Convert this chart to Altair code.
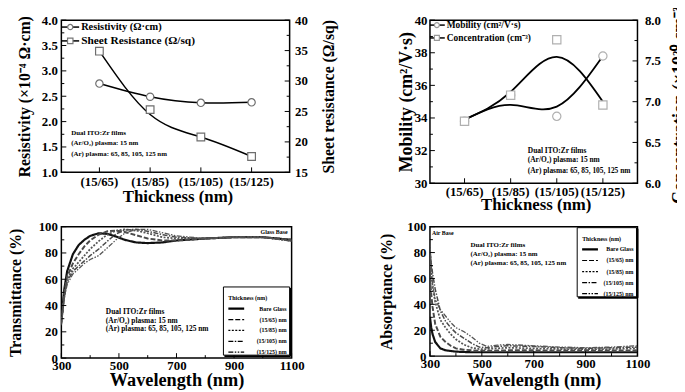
import altair as alt
import pandas as pd

FONT = "Liberation Serif"

# ---------------- data ----------------
CATS = ["(15/65)", "(15/85)", "(15/105)", "(15/125)"]

RES_PTS = [2.75, 2.49, 2.37, 2.38]
RES_FIT = [2.75, 2.49, 2.37, 2.38]
SHEET_PTS = [34.9, 25.3, 20.8, 17.6]
SHEET_FIT = [34.9, 24.5, 20.8, 17.6]

MOB_PTS = [33.8, 35.4, 34.1, 37.8]
MOB_FIT = [33.9, 34.8, 34.7, 37.8]
CONC_PTS = [6.76, 7.08, 7.76, 6.96]
CONC_FIT = [6.78, 7.12, 7.55, 7.0]

SERIES = ["Bare Glass", "(15/65) nm", "(15/85) nm", "(15/105) nm", "(15/125) nm"]

WL_T = [300, 310, 320, 340, 360, 380, 400, 430, 460, 490, 520, 560, 600, 650, 700, 800, 900, 1000, 1100]
T_BARE = [30, 52, 66, 79, 86, 90, 93, 95, 94.5, 92.5, 90, 88, 87.5, 88, 89.5, 91, 92, 92, 90]
T_65 = [28, 50, 62, 72, 79, 85, 89.5, 94, 96.5, 97, 96, 93.5, 91, 89.5, 89.5, 91, 92, 92, 90]
T_85 = [27, 48, 60, 68, 73, 78, 83, 89, 94, 97, 98, 97, 95, 92, 91, 91, 92, 92, 89.5]
T_105 = [26, 46, 58, 66, 70, 74, 78, 83, 89, 94.5, 97.5, 98, 96.5, 94, 92, 91, 92, 92, 89]
T_125 = [25, 45, 56, 64, 68, 72, 75, 78, 84, 90, 95, 98, 98, 95.5, 93, 91, 92, 92, 89]

WL_A = [300, 305, 310, 320, 340, 360, 380, 400, 430, 460, 490, 520, 560, 600, 700, 800, 900, 1000, 1100]
A_BARE = [30, 22, 17, 11, 6, 4.5, 4, 3.5, 3.2, 3, 3, 3, 3, 3, 3, 3, 3, 3, 3]
A_65 = [60, 48, 38, 25, 15, 11, 8, 6, 5, 4.5, 4.2, 4.2, 4.3, 4.5, 4.5, 4.3, 4.5, 4.3, 4.5]
A_85 = [75, 63, 54, 42, 28, 22, 17, 13, 9, 6.5, 5.5, 5.5, 6, 6.5, 6, 5.5, 5.5, 5.5, 6]
A_105 = [82, 72, 64, 52, 35, 27, 22, 18, 14, 10, 7, 6.5, 7.5, 8, 7.5, 6.5, 6, 6.5, 7]
A_125 = [88, 70, 56, 44, 36, 31, 26, 22, 19, 15, 10, 7.5, 8.5, 9, 8, 7, 6.5, 7, 8]

TL_LEFT_TICKS = [1.0, 1.5, 2.0, 2.5, 3.0, 3.5, 4.0]
TL_LEFT_MINOR = [1.25, 1.75, 2.25, 2.75, 3.25, 3.75]
TL_RIGHT_TICKS = [15, 20, 25, 30, 35, 40]
TL_RIGHT_MINOR = [17.5, 22.5, 27.5, 32.5, 37.5]
TR_LEFT_TICKS = [30, 32, 34, 36, 38, 40]
TR_LEFT_MINOR = [31, 33, 35, 37, 39]
TR_RIGHT_TICKS = [6.0, 6.5, 7.0, 7.5, 8.0]
TR_RIGHT_MINOR = [6.25, 6.75, 7.25, 7.75]
PCT_TICKS = [0, 20, 40, 60, 80, 100]
PCT_MINOR = [10, 30, 50, 70, 90]
WL_TICKS = [300, 500, 700, 900, 1100]
WL_MINOR = [400, 600, 800, 1000]

NOTE = ["Dual ITO:Zr films", "(Ar/O\u2082) plasma: 15 nm", "(Ar) plasma: 65, 85, 105, 125 nm"]

# ---------------- styles ----------------
DASHES = [[1, 0], [5, 2], [2, 1.5], [5, 1.5, 1.5, 1.5], [5, 1.5, 1.5, 1.5, 1.5, 1.5]]
WIDTHS = [2.2, 1.3, 1.3, 1.3, 1.3]
COLORS = ["#111111", "#4a4a4a", "#555555", "#4a4a4a", "#555555"]

ONE = pd.DataFrame({"k": [0]})


def txt(x, y, s, size, align="left", weight="bold", font=FONT):
    return alt.Chart(ONE).mark_text(
        align=align, baseline="middle", fontSize=size, font=font,
        fontWeight=weight, color="black"
    ).encode(x=alt.value(x), y=alt.value(y), text=alt.value(s))


def hseg(x1, x2, y, dash=None, width=1.5, color="black"):
    kw = dict(color=color, strokeWidth=width)
    if dash is not None:
        kw["strokeDash"] = dash
    return alt.Chart(ONE).mark_rule(**kw).encode(
        x=alt.value(x1), x2=alt.value(x2), y=alt.value(y))


def marker(shape, stroke, size, sw=1.2):
    return dict(shape=shape, filled=False, fill="white", fillOpacity=1,
                stroke=stroke, strokeWidth=sw, size=size, opacity=1)


def yticks(values, Yb, side, W, length):
    df = pd.DataFrame({"v": values})
    if side == "left":
        xs = dict(x=alt.value(0), x2=alt.value(length))
    else:
        xs = dict(x=alt.value(W - length), x2=alt.value(W))
    return alt.Chart(df).mark_rule(color="black", strokeWidth=1).encode(y=Yb("v:Q"), **xs)


def xticks(values, Xb, H, length):
    df = pd.DataFrame({"v": values})
    return alt.Chart(df).mark_rule(color="black", strokeWidth=1).encode(
        x=Xb("v"), y=alt.value(H - length), y2=alt.value(H))


def yaxis(title, values, fmt, tx, ty, orient="left", pad=4, size=16):
    return alt.Axis(
        title=title, values=values, format=fmt, orient=orient, labelPadding=pad,
        titleX=tx, titleY=ty, titleAngle=270,
        titleAlign="center", titleBaseline="middle", titleFontSize=size)


def cat_x(W, pad, ty):
    xax = alt.Axis(title="Thickness (nm)", labelAngle=0, labelPadding=pad,
                   titleX=W / 2 + 2, titleY=ty, titleAlign="center",
                   titleBaseline="middle", titleFontSize=17)

    def X(f):
        ff = f if ":" in f else f + ":N"
        return alt.X(ff, sort=None, scale=alt.Scale(domain=CATS, padding=0.5), axis=xax)
    return X


# ---------------- top-left ----------------
W1, H1 = 231, 154


def panel_tl():
    df = pd.DataFrame({"cat": CATS, "res": RES_PTS, "resfit": RES_FIT,
                       "sheet": SHEET_PTS, "sheetfit": SHEET_FIT})
    X = cat_x(W1, 3, 25)
    lax = yaxis("Resistivity (\u00d710\u207b\u2074 \u03a9\u00b7cm)", TL_LEFT_TICKS, ".1f", -37, H1 / 2)
    rax = yaxis("Sheet resistance (\u03a9/sq)", TL_RIGHT_TICKS, "d", 39, H1 / 2, orient="right", pad=5)

    def YL(f):
        return alt.Y(f, scale=alt.Scale(domain=[1, 4], nice=False, zero=False), axis=lax)

    def YR(f):
        return alt.Y(f, scale=alt.Scale(domain=[15, 40], nice=False, zero=False), axis=rax)

    base = alt.Chart(df)
    left = alt.layer(
        base.mark_line(color="black", strokeWidth=1.5, interpolate="natural").encode(x=X("cat"), y=YL("resfit:Q")),
        base.mark_point(**marker("circle", "#6e6e6e", 55)).encode(x=X("cat"), y=YL("res:Q")),
        yticks(TL_LEFT_TICKS, YL, "left", W1, 5),
        yticks(TL_LEFT_MINOR, YL, "left", W1, 3),
        xticks(CATS, X, H1, 5),
    )
    right = alt.layer(
        base.mark_line(color="black", strokeWidth=1.5, interpolate="natural").encode(x=X("cat"), y=YR("sheetfit:Q")),
        base.mark_point(**marker("square", "#6e6e6e", 60)).encode(x=X("cat"), y=YR("sheet:Q")),
        yticks(TL_RIGHT_TICKS, YR, "right", W1, 5),
        yticks(TL_RIGHT_MINOR, YR, "right", W1, 3),
    )
    leg = [
        hseg(0, 18, 7), alt.Chart(ONE).mark_point(**marker("circle", "#777", 28)).encode(x=alt.value(9), y=alt.value(7)),
        txt(20, 7, "Resistivity (\u03a9\u00b7cm)", 10.5),
        hseg(0, 18, 21), alt.Chart(ONE).mark_point(**marker("square", "#777", 30)).encode(x=alt.value(9), y=alt.value(21)),
        txt(20, 21, "Sheet Resistance (\u03a9/sq)", 11.5),
        txt(10, 114, NOTE[0], 7), txt(10, 124, NOTE[1], 7), txt(10, 135, NOTE[2], 7),
    ]
    return alt.layer(left, right, *leg).resolve_scale(y="independent").properties(width=W1, height=H1)


# ---------------- top-right ----------------
W2, H2 = 210, 165


def panel_tr():
    df = pd.DataFrame({"cat": CATS, "mob": MOB_PTS, "mobfit": MOB_FIT,
                       "conc": CONC_PTS, "concfit": CONC_FIT})
    X = cat_x(W2, 2, 22)
    lax = yaxis("Mobility (cm\u00b2/V\u00b7s)", TR_LEFT_TICKS, "d", -24, H2 / 2, pad=3, size=18)
    rax = yaxis("Concentration (\u00d710\u00b2\u2070 cm\u207b\u00b3)", TR_RIGHT_TICKS, ".1f", 43, H2 / 2, orient="right", pad=7, size=18)

    def YL(f):
        return alt.Y(f, scale=alt.Scale(domain=[30, 40], nice=False, zero=False), axis=lax)

    def YR(f):
        return alt.Y(f, scale=alt.Scale(domain=[6, 8], nice=False, zero=False), axis=rax)

    base = alt.Chart(df)
    left = alt.layer(
        base.mark_line(color="black", strokeWidth=1.8, interpolate="natural").encode(x=X("cat"), y=YL("mobfit:Q")),
        base.mark_point(**marker("circle", "#b0b0b0", 70)).encode(x=X("cat"), y=YL("mob:Q")),
        yticks(TR_LEFT_TICKS, YL, "left", W2, 5),
        yticks(TR_LEFT_MINOR, YL, "left", W2, 3),
        xticks(CATS, X, H2, 5),
    )
    right = alt.layer(
        base.mark_line(color="black", strokeWidth=1.8, interpolate="natural").encode(x=X("cat"), y=YR("concfit:Q")),
        base.mark_point(**marker("square", "#b0b0b0", 70)).encode(x=X("cat"), y=YR("conc:Q")),
        yticks(TR_RIGHT_TICKS, YR, "right", W2, 5),
        yticks(TR_RIGHT_MINOR, YR, "right", W2, 3),
    )
    leg = [
        hseg(0, 15, 5), alt.Chart(ONE).mark_point(**marker("circle", "#999", 25)).encode(x=alt.value(7), y=alt.value(5)),
        txt(17, 5, "Mobility (cm\u00b2/V\u00b7s)", 9.5),
        hseg(0, 15, 18), alt.Chart(ONE).mark_point(**marker("square", "#999", 25)).encode(x=alt.value(7), y=alt.value(18)),
        txt(17, 18, "Concentration (cm\u207b\u00b3)", 9.5),
        txt(99, 132, NOTE[0], 7.5), txt(99, 142, NOTE[1], 7.5), txt(99, 153, NOTE[2], 7.5),
    ]
    return alt.layer(left, right, *leg).resolve_scale(y="independent").properties(width=W2, height=H2)


# ---------------- spectra panels ----------------
def long_df(wl, arrays):
    rows = []
    for name, vals in zip(SERIES, arrays):
        for w, v in zip(wl, vals):
            rows.append({"wl": w, "val": v, "series": name})
    return pd.DataFrame(rows)


def spectra_panel(W, H, wl, arrays, ytitle, ytx, xty, box, base_label, base_pos, note_pos, note_size):
    df = long_df(wl, arrays)
    xax = alt.Axis(title="Wavelength (nm)", values=WL_TICKS, format="d", labelPadding=2,
                   labelFlush=False, titleX=W / 2, titleY=xty, titleAlign="center",
                   titleBaseline="middle", titleFontSize=18.5)
    yax = yaxis(ytitle, PCT_TICKS, "d", ytx, H / 2, pad=4, size=16)

    def X(f):
        ff = f if ":" in f else f + ":Q"
        return alt.X(ff, scale=alt.Scale(domain=[300, 1100], nice=False, zero=False), axis=xax)

    def Y(f):
        return alt.Y(f, scale=alt.Scale(domain=[0, 100], nice=False, zero=False), axis=yax)

    lines = alt.Chart(df).mark_line(clip=True).encode(
        x=X("wl:Q"), y=Y("val:Q"),
        detail="series:N",
        color=alt.Color("series:N", scale=alt.Scale(domain=SERIES, range=COLORS), legend=None),
        strokeDash=alt.StrokeDash("series:N", scale=alt.Scale(domain=SERIES, range=DASHES), legend=None),
        strokeWidth=alt.StrokeWidth("series:N", scale=alt.Scale(domain=SERIES, range=WIDTHS), legend=None),
        order=alt.Order("wl:Q"),
    )
    layers = [lines,
              yticks(PCT_TICKS, Y, "left", W, 5), yticks(PCT_MINOR, Y, "left", W, 3),
              xticks(WL_TICKS, X, H, 5), xticks(WL_MINOR, X, H, 3)]
    bx1, by1, bx2, by2 = box
    layers.append(alt.Chart(ONE).mark_rect(fill="white", stroke="black", strokeWidth=1).encode(
        x=alt.value(bx1), x2=alt.value(bx2), y=alt.value(by1), y2=alt.value(by2)))
    layers.append(alt.Chart(ONE).mark_rule(color="black", strokeWidth=2).encode(
        x=alt.value(bx2 + 1), y=alt.value(by1 + 1), y2=alt.value(by2 + 1)))
    layers.append(alt.Chart(ONE).mark_rule(color="black", strokeWidth=2).encode(
        x=alt.value(bx1 + 1), x2=alt.value(bx2 + 1), y=alt.value(by2 + 1)))
    step = (by2 - by1 - 14) / 5.0
    layers.append(txt(bx1 + 5, by1 + 11, "Thickness (nm)", 6))
    for i, name in enumerate(SERIES):
        yy = by1 + 22 + i * step
        layers.append(hseg(bx1 + 5, bx1 + 21, yy, dash=DASHES[i], width=WIDTHS[i] if i == 0 else 1.2))
        layers.append(txt(bx2 - 3, yy, name, 6, align="right"))
    layers.append(txt(base_pos[0], base_pos[1], base_label, 6,
                      align="right" if base_label == "Glass Base" else "left"))
    nx, ny = note_pos
    for i, s in enumerate(NOTE):
        layers.append(txt(nx, ny + i * 9, s, note_size))
    return alt.layer(*layers).properties(width=W, height=H)


W3, H3 = 233, 133
W4, H4 = 210, 131

bl = spectra_panel(W3, H3, WL_T, [T_BARE, T_65, T_85, T_105, T_125], "Transmittance (%)",
                   -46, 22, (164, 61, 231, 130), "Glass Base", (229, 5), (45, 86), 7.5)
br = spectra_panel(W4, H4, WL_A, [A_BARE, A_65, A_85, A_105, A_125], "Absorptance (%)",
                   -44, 24, (149, 1, 209, 71), "Air Base", (2, 6), (41, 19), 7)

chart = alt.concat(
    panel_tl(), panel_tr(), bl, br, columns=2,
    spacing={"row": 44, "column": 140}, bounds="flush"
).configure_view(
    stroke="black", strokeWidth=1.5
).configure_axis(
    labelFont=FONT, titleFont=FONT, labelFontWeight="bold", titleFontWeight="bold",
    labelColor="black", titleColor="black", labelFontSize=13, ticks=False, tickSize=0,
    domain=False, grid=False, labelOverlap=False
).properties(
    autosize=alt.AutoSizeParams(type="none"),
    padding={"left": 54, "top": 10, "right": 623, "bottom": 374},
    background="white",
)

chart.save("out.html", embed_options={"renderer": "svg", "actions": False})
